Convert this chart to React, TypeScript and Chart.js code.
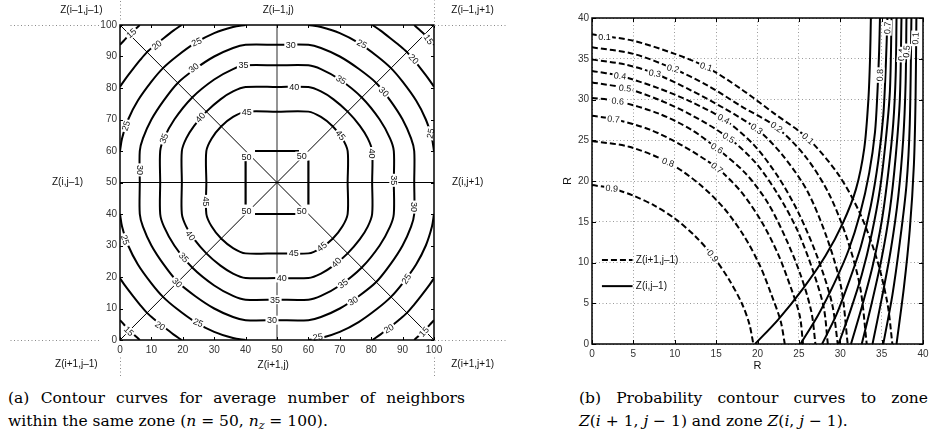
import React, { useEffect, useRef } from 'react';
import { Chart, registerables } from 'chart.js';

Chart.register(...registerables);

type P = [number, number];

// ---------- (a) average number of neighbours inside the same zone ----------
const nbTicks = [0, 10, 20, 30, 40, 50, 60, 70, 80, 90, 100];

const nb15: P[][] = [
  [[6.3, 0], [5, 1.2], [3, 3], [1.2, 5], [0, 6.3]],
  [[0, 93.7], [1.2, 95], [3, 97], [5, 98.8], [6.3, 100]],
  [[93.7, 100], [95, 98.8], [97, 97], [98.8, 95], [100, 93.7]],
  [[100, 6.3], [98.8, 5], [97, 3], [95, 1.2], [93.7, 0]],
];

const nb20: P[][] = [
  [[19.6, 0], [17, 1.8], [14, 4.1], [11, 6.5], [8.6, 8.6], [6.5, 11], [4.1, 14], [1.8, 17], [0, 19.6]],
  [[0, 80.4], [1.8, 83], [4.1, 86], [6.5, 89], [8.6, 91.4], [11, 93.5], [14, 95.9], [17, 98.2], [19.6, 100]],
  [[80.4, 100], [83, 98.2], [86, 95.9], [89, 93.5], [91.4, 91.4], [93.5, 89], [95.9, 86], [98.2, 83], [100, 80.4]],
  [[100, 19.6], [98.2, 17], [95.9, 14], [93.5, 11], [91.4, 8.6], [89, 6.5], [86, 4.1], [83, 1.8], [80.4, 0]],
];

const nb25: P[][] = [
  [[40, 0], [36, 0.65], [30, 2.6], [24, 5.7], [18, 10], [13.7, 13.7], [10, 18], [5.7, 24], [2.6, 30], [0.65, 36], [0, 40]],
  [[0, 60], [0.65, 64], [2.6, 70], [5.7, 76], [10, 82], [13.7, 86.3], [18, 90], [24, 94.3], [30, 97.4], [36, 99.35], [40, 100]],
  [[60, 100], [64, 99.35], [70, 97.4], [76, 94.3], [82, 90], [86.3, 86.3], [90, 82], [94.3, 76], [97.4, 70], [99.35, 64], [100, 60]],
  [[100, 40], [99.35, 36], [97.4, 30], [94.3, 24], [90, 18], [86.3, 13.7], [82, 10], [76, 5.7], [70, 2.6], [64, 0.65], [60, 0]],
];

const nb30: P[] = [
  [50, 93.7], [40, 93.7], [36, 92.7], [30, 90], [24, 86.1], [18.4, 81.6], [13.9, 76], [10, 70], [7.3, 64], [6.3, 60],
  [6.3, 50], [6.3, 40], [7.3, 36], [10, 30], [13.9, 24], [18.4, 18.4], [24, 13.9], [30, 10], [36, 7.3], [40, 6.3],
  [50, 6.3], [60, 6.3], [64, 7.3], [70, 10], [76, 13.9], [81.6, 18.4], [86.1, 24], [90, 30], [92.7, 36], [93.7, 40],
  [93.7, 50], [93.7, 60], [92.7, 64], [90, 70], [86.1, 76], [81.6, 81.6], [76, 86.1], [70, 90], [64, 92.7], [60, 93.7],
  [50, 93.7],
];

const nb35: P[] = [
  [50, 87.2], [40, 87.2], [36, 86], [30, 82.7], [23, 77], [17.3, 70], [14, 64], [12.8, 60],
  [12.8, 50], [12.8, 40], [14, 36], [17.3, 30], [23, 23], [30, 17.3], [36, 14], [40, 12.8],
  [50, 12.8], [60, 12.8], [64, 14], [70, 17.3], [77, 23], [82.7, 30], [86, 36], [87.2, 40],
  [87.2, 50], [87.2, 60], [86, 64], [82.7, 70], [77, 77], [70, 82.7], [64, 86], [60, 87.2],
  [50, 87.2],
];

const nb40: P[] = [
  [50, 80.3], [40, 80.3], [36, 78.9], [32, 76.4], [27.5, 72.5], [23.6, 68], [21.1, 64], [19.7, 60],
  [19.7, 50], [19.7, 40], [21.1, 36], [23.6, 32], [27.5, 27.5], [32, 23.6], [36, 21.1], [40, 19.7],
  [50, 19.7], [60, 19.7], [64, 21.1], [68, 23.6], [72.5, 27.5], [76.4, 32], [78.9, 36], [80.3, 40],
  [80.3, 50], [80.3, 60], [78.9, 64], [76.4, 68], [72.5, 72.5], [68, 76.4], [64, 78.9], [60, 80.3],
  [50, 80.3],
];

const nb45: P[] = [
  [50, 72.5], [40, 72.5], [36, 70.8], [32.2, 67.8], [29.2, 64], [27.5, 60],
  [27.5, 50], [27.5, 40], [29.2, 36], [32.2, 32.2], [36, 29.2], [40, 27.5],
  [50, 27.5], [60, 27.5], [64, 29.2], [67.8, 32.2], [70.8, 36], [72.5, 40],
  [72.5, 50], [72.5, 60], [70.8, 64], [67.8, 67.8], [64, 70.8], [60, 72.5],
  [50, 72.5],
];

const nb50: P[][] = [
  [[43, 60], [57, 60]],
  [[43, 40], [57, 40]],
  [[40, 43], [40, 57]],
  [[60, 43], [60, 57]],
];

// inline contour labels: text, x, y, rotation (deg)
const nbLabels: [string, number, number, number][] = [
  ['15', 3.6, 97.4, -40], ['20', 11.7, 93.6, -38], ['25', 24.4, 94.6, -25], ['30', 23.5, 86.4, -40],
  ['40', 25.6, 70.6, -48], ['35', 39.3, 87.2, 0], ['45', 40.4, 72.5, 0],
  ['30', 54.4, 93.7, 0], ['40', 55.5, 80.3, 0], ['35', 70.4, 82.6, 32], ['30', 84, 78.8, 45],
  ['25', 77, 94, 28], ['20', 93.5, 89.2, 45], ['15', 98.3, 95.4, 55],
  ['25', 1.9, 68, -72], ['30', 6.3, 54, 90], ['25', 1.6, 31.8, 72],
  ['35', 14, 64, -70], ['45', 27.5, 44, 90], ['40', 22.4, 33.2, 55],
  ['50', 40.3, 58.2, 0], ['50', 57.9, 58.4, 0], ['50', 40.3, 41, 0], ['50', 57.9, 41, 0],
  ['45', 64.3, 29.6, -38], ['45', 70.2, 65, 50], ['40', 80.3, 59.2, 90], ['35', 87.2, 50.7, 90],
  ['30', 93.7, 42.2, 90], ['25', 98.9, 65.6, -78],
  ['45', 55.3, 27.5, 0], ['40', 51.5, 19.7, 0], ['35', 49.4, 12.8, 0], ['30', 48.4, 6.3, 0],
  ['35', 20.3, 26.2, 48], ['30', 18.2, 18.2, 45], ['20', 12.8, 4.5, 32], ['25', 24.9, 5.5, 22], ['15', 2.8, 2.8, 45],
  ['40', 68.9, 24.6, -45], ['35', 71, 17.9, -36], ['30', 74.2, 12.4, -30], ['25', 91.2, 19.4, -55],
  ['20', 85.6, 3.6, -30], ['15', 96.8, 2.6, -48], ['25', 63, 0.9, -8],
];

// neighbouring-zone names around the zone: text, x, y
const zoneNames: [string, number, number][] = [
  ['Z(i–1,j–1)', -12.3, 104.8], ['Z(i–1,j)', 50.4, 104.8], ['Z(i–1,j+1)', 112.3, 104.8],
  ['Z(i,j–1)', -16.7, 50], ['Z(i,j+1)', 110.7, 50],
  ['Z(i+1,j–1)', -13.9, -7.6], ['Z(i+1,j)', 48.8, -8.1], ['Z(i+1,j+1)', 112.3, -7.6],
];

// dotted continuation lines of the zone grid: [x1, y1, x2, y2]
const zoneGridLines: [number, number, number, number][] = [
  [-35, 100, -6, 100], [0, 102, 0, 108],
  [100, 100, 123, 100], [100, 100, 100, 108],
  [-35, 0, -6, 0], [0, -5.5, 0, -11.5],
  [100, 0, 123, 0], [100, -5.5, 100, -11.5],
];

// ---------- (b) probability contours ----------
const rTicks = [0, 5, 10, 15, 20, 25, 30, 35, 40];

// zone Z(i+1,j-1), levels 0.1 ... 0.9
const diagCurves: P[][] = [
  [[0, 38], [5, 37.2], [10, 35.6], [13.8, 34], [18, 31.3], [22, 28.3], [26.1, 25.2], [29.7, 20.9], [32.4, 16], [34.4, 10.5], [35.7, 5], [36.3, 0]],
  [[0, 36.4], [5, 35.6], [9.8, 33.8], [14, 31.7], [18, 29.2], [22.3, 26.6], [25.8, 23], [28.6, 18.5], [30.8, 13], [32.4, 7], [33.2, 0]],
  [[0, 34.9], [4, 34.3], [7.6, 33.2], [12, 31.1], [16, 28.9], [19.9, 26.4], [23, 23.2], [26, 18.8], [28.4, 13], [30.1, 7], [30.9, 0]],
  [[0, 33.5], [3.4, 32.9], [8, 31.4], [12, 29.7], [15.9, 27.6], [19.5, 24.5], [22.5, 20.5], [25, 16], [27.3, 10.5], [29, 5], [29.7, 0]],
  [[0, 32.1], [4, 31.4], [8, 30], [12, 28.1], [16.5, 25.3], [19.8, 22.2], [22.5, 18.3], [24.8, 14], [26.7, 9], [28, 4.5], [28.5, 0]],
  [[0, 30.2], [3.1, 29.8], [8, 28.3], [12, 26.3], [15.1, 24], [18.5, 21], [21.2, 17.4], [23.4, 13], [25.2, 8.5], [26.5, 4], [27, 0]],
  [[0, 28], [2.6, 27.6], [7, 26.3], [11, 24.3], [15.1, 21.6], [18, 18.7], [20.5, 15], [22.5, 11], [24, 7], [25.1, 3.5], [25.5, 0]],
  [[0, 24.9], [4.5, 24.2], [9.2, 22.3], [13, 19.6], [16, 16.6], [18.4, 13.2], [20.3, 9.6], [21.7, 6], [22.8, 2.8], [23.3, 0]],
  [[0, 19.5], [2.4, 19.1], [5, 18.2], [7.5, 17], [10, 15.4], [12.5, 13.2], [14.6, 10.8], [16.5, 8], [18.1, 5], [19, 2.5], [19.5, 0]],
];

// zone Z(i,j-1), levels 0.1 ... 0.9
const sideCurves: P[][] = [
  [[36.8, 0], [37.7, 7], [38.4, 14], [38.9, 22], [39.1, 30], [39.2, 40]],
  [[35.2, 0], [36.3, 6], [37.2, 12.5], [38, 19.5], [38.4, 27], [38.6, 40]],
  [[33.9, 0], [35, 5.5], [36.1, 11.5], [37, 18], [37.6, 25], [37.9, 32], [38, 40]],
  [[32.6, 0], [33.8, 5], [35, 10.5], [36, 16.5], [36.7, 23], [37.2, 30], [37.4, 40]],
  [[31.3, 0], [32.6, 4.5], [33.9, 9.5], [35, 15], [35.8, 21], [36.4, 27], [36.7, 33], [36.8, 40]],
  [[29.8, 0], [31.2, 4], [32.6, 8.5], [33.8, 13.5], [34.8, 19], [35.5, 25], [36, 31], [36.2, 40]],
  [[27.8, 0], [29.5, 3.5], [31, 7.5], [32.5, 12], [33.7, 17], [34.6, 22.5], [35.2, 28], [35.5, 34], [35.7, 40]],
  [[25.2, 0], [27.3, 3.5], [29.3, 7.5], [31, 11.5], [32.4, 16], [33.5, 21], [34.2, 26], [34.5, 31], [34.7, 36], [34.8, 40]],
  [[19.7, 0], [22.5, 3], [25.5, 6.8], [28.2, 10.8], [30.3, 14.8], [31.9, 19], [32.9, 24], [33.4, 30], [33.6, 35], [33.7, 40]],
];

const probLabels: [string, number, number, number][] = [
  ['0.1', 1.5, 37.7, 0], ['0.1', 13.8, 34, 18], ['0.1', 26.1, 25.2, 42],
  ['0.2', 9.8, 33.8, 14], ['0.2', 22.3, 26.6, 35],
  ['0.3', 7.6, 33.2, 10], ['0.3', 19.9, 26.4, 35],
  ['0.4', 3.4, 32.9, 6], ['0.4', 15.9, 27.6, 28],
  ['0.5', 4, 31.4, 6], ['0.5', 16.5, 25.3, 32],
  ['0.6', 3.1, 29.8, 5], ['0.6', 15.1, 24, 32],
  ['0.7', 2.6, 27.6, 5], ['0.7', 15.1, 21.6, 38],
  ['0.8', 9.2, 22.3, 20], ['0.9', 2.4, 19.1, 5], ['0.9', 14.6, 10.8, 52],
  ['0.8', 34.8, 33, -88], ['0.7', 35.7, 38.8, -88], ['0.4', 37.4, 35.5, -85], ['0.5', 38, 35.9, -85],
  ['0.1', 39.1, 37.5, -88],
];

// legend entries: text, y, dashed
const probLegend: [string, number, boolean][] = [
  ['Z(i+1,j–1)', 10.3, true],
  ['Z(i,j–1)', 7.1, false],
];

const DASHED = [6, 3];
const SANS = '"Liberation Sans", Arial, sans-serif';

const toXY = (pts: P[]) => pts.map(([x, y]) => ({ x, y }));

function drawLabel(ctx: CanvasRenderingContext2D, text: string, px: number, py: number, deg: number, size: number) {
  ctx.save();
  ctx.translate(px, py);
  ctx.rotate((deg * Math.PI) / 180);
  ctx.font = `${size}px ${SANS}`;
  const w = ctx.measureText(text).width;
  ctx.fillStyle = '#fff';
  ctx.fillRect(-w / 2 - 1.5, -size / 2, w + 3, size);
  ctx.fillStyle = '#111';
  ctx.textAlign = 'center';
  ctx.textBaseline = 'middle';
  ctx.fillText(text, 0, 0.5);
  ctx.restore();
}

function drawFrame(chart: any, tickLen: number) {
  const { ctx, chartArea: a, scales } = chart;
  ctx.save();
  ctx.strokeStyle = '#000';
  ctx.lineWidth = 1.5;
  ctx.strokeRect(a.left, a.top, a.right - a.left, a.bottom - a.top);
  ctx.lineWidth = 1;
  for (const t of scales.x.ticks) {
    const px = Math.round(scales.x.getPixelForValue(t.value)) + 0.5;
    ctx.beginPath();
    ctx.moveTo(px, a.bottom);
    ctx.lineTo(px, a.bottom - tickLen);
    ctx.moveTo(px, a.top);
    ctx.lineTo(px, a.top + tickLen);
    ctx.stroke();
  }
  for (const t of scales.y.ticks) {
    const py = Math.round(scales.y.getPixelForValue(t.value)) + 0.5;
    ctx.beginPath();
    ctx.moveTo(a.left, py);
    ctx.lineTo(a.left + tickLen, py);
    ctx.moveTo(a.right, py);
    ctx.lineTo(a.right - tickLen, py);
    ctx.stroke();
  }
  ctx.restore();
}

function lineSet(pts: P[], width: number, color = '#000', dash: number[] = [], tension = 0.3) {
  return {
    data: toXY(pts),
    showLine: true,
    pointRadius: 0,
    borderColor: color,
    borderWidth: width,
    borderDash: dash,
    tension,
    fill: false,
  };
}

function NeighboursChart() {
  const ref = useRef<HTMLCanvasElement>(null);
  useEffect(() => {
    const datasets: any[] = [];
    [...nb15, ...nb20, ...nb25].forEach((arc) => datasets.push(lineSet(arc, 2)));
    [nb30, nb35, nb40, nb45].forEach((loop) => datasets.push(lineSet(loop, 2)));
    nb50.forEach((seg) => datasets.push(lineSet(seg, 2.2, '#000', [], 0)));
    // zone axes
    datasets.push(lineSet([[0, 0], [100, 100]], 1, '#000', [], 0));
    datasets.push(lineSet([[0, 100], [100, 0]], 1, '#000', [], 0));
    datasets.push(lineSet([[0, 50], [100, 50]], 1.2, '#000', [], 0));
    datasets.push(lineSet([[50, 0], [50, 100]], 1.6, '#7a7a7a', [], 0));

    const overlay = {
      id: 'nbOverlay',
      afterDatasetsDraw(chart: any) {
        const { ctx, scales } = chart;
        for (const [t, x, y, r] of nbLabels) {
          drawLabel(ctx, t, scales.x.getPixelForValue(x), scales.y.getPixelForValue(y), r, 9);
        }
      },
      afterDraw(chart: any) {
        const { ctx, scales } = chart;
        drawFrame(chart, 3);
        ctx.save();
        ctx.strokeStyle = '#8a8a8a';
        ctx.lineWidth = 1;
        ctx.setLineDash([1, 2.5]);
        for (const [x1, y1, x2, y2] of zoneGridLines) {
          ctx.beginPath();
          ctx.moveTo(Math.round(scales.x.getPixelForValue(x1)) + 0.5, Math.round(scales.y.getPixelForValue(y1)) + 0.5);
          ctx.lineTo(Math.round(scales.x.getPixelForValue(x2)) + 0.5, Math.round(scales.y.getPixelForValue(y2)) + 0.5);
          ctx.stroke();
        }
        ctx.setLineDash([]);
        ctx.fillStyle = '#111';
        ctx.font = `10px ${SANS}`;
        ctx.textAlign = 'center';
        ctx.textBaseline = 'middle';
        for (const [t, x, y] of zoneNames) {
          ctx.fillText(t, scales.x.getPixelForValue(x), scales.y.getPixelForValue(y));
        }
        ctx.restore();
      },
    };

    const tickFont = { family: SANS, size: 10 };
    const chart = new Chart(ref.current!, {
      type: 'scatter',
      data: { datasets },
      plugins: [overlay],
      options: {
        animation: false,
        responsive: false,
        devicePixelRatio: 1,
        layout: { padding: { left: 90, top: 25, right: 86, bottom: 20 } },
        plugins: { legend: { display: false }, tooltip: { enabled: false } },
        scales: {
          x: {
            type: 'linear', min: 0, max: 100,
            afterBuildTicks: (s: any) => { s.ticks = nbTicks.map((v) => ({ value: v })); },
            afterFit: (s: any) => { s.height = 20; },
            ticks: { font: tickFont, color: '#333', padding: 4 },
            grid: { display: false, drawTicks: false },
            border: { display: false },
          },
          y: {
            type: 'linear', min: 0, max: 100,
            afterBuildTicks: (s: any) => { s.ticks = nbTicks.map((v) => ({ value: v })); },
            afterFit: (s: any) => { s.width = 30; },
            ticks: { font: tickFont, color: '#333', padding: 3 },
            grid: { display: false, drawTicks: false },
            border: { display: false },
          },
        },
      } as any,
    });
    return () => chart.destroy();
  }, []);
  return <canvas ref={ref} width={520} height={380} />;
}

function ProbabilityChart() {
  const ref = useRef<HTMLCanvasElement>(null);
  useEffect(() => {
    const datasets: any[] = [];
    diagCurves.forEach((c) => datasets.push(lineSet(c, 2, '#000', DASHED, 0.3)));
    sideCurves.forEach((c) => datasets.push(lineSet(c, 2, '#000', [], 0.3)));

    const overlay = {
      id: 'probOverlay',
      afterDatasetsDraw(chart: any) {
        const { ctx, scales } = chart;
        for (const [t, x, y, r] of probLabels) {
          drawLabel(ctx, t, scales.x.getPixelForValue(x), scales.y.getPixelForValue(y), r, 9);
        }
      },
      afterDraw(chart: any) {
        const { ctx, scales, chartArea: a } = chart;
        drawFrame(chart, 4);
        ctx.save();
        // legend
        ctx.font = `10px ${SANS}`;
        ctx.textBaseline = 'middle';
        ctx.textAlign = 'left';
        for (const [t, y, dashed] of probLegend) {
          const py = scales.y.getPixelForValue(y);
          ctx.strokeStyle = '#000';
          ctx.lineWidth = 2;
          ctx.setLineDash(dashed ? DASHED : []);
          ctx.beginPath();
          ctx.moveTo(scales.x.getPixelForValue(1.2), py);
          ctx.lineTo(scales.x.getPixelForValue(4.9), py);
          ctx.stroke();
          ctx.setLineDash([]);
          ctx.fillStyle = '#111';
          ctx.fillText(t, scales.x.getPixelForValue(5.3), py);
        }
        // axis titles
        ctx.font = `11px ${SANS}`;
        ctx.textAlign = 'center';
        ctx.fillText('R', (a.left + a.right) / 2, a.bottom + 22);
        ctx.translate(a.left - 24, (a.top + a.bottom) / 2);
        ctx.rotate(-Math.PI / 2);
        ctx.fillText('R', 0, 0);
        ctx.restore();
      },
    };

    const tickFont = { family: SANS, size: 10 };
    const gridOpts = { display: true, drawTicks: false, color: '#9a9a9a', lineWidth: 1 };
    const chart = new Chart(ref.current!, {
      type: 'scatter',
      data: { datasets },
      plugins: [overlay],
      options: {
        animation: false,
        responsive: false,
        devicePixelRatio: 1,
        layout: { padding: { left: 22, top: 18, right: 17, bottom: 16 } },
        plugins: { legend: { display: false }, tooltip: { enabled: false } },
        scales: {
          x: {
            type: 'linear', min: 0, max: 40,
            afterBuildTicks: (s: any) => { s.ticks = rTicks.map((v) => ({ value: v })); },
            afterFit: (s: any) => { s.height = 20; },
            ticks: { font: tickFont, color: '#333', padding: 4 },
            grid: gridOpts,
            border: { display: false, dash: [1, 2.5] },
          },
          y: {
            type: 'linear', min: 0, max: 40,
            afterBuildTicks: (s: any) => { s.ticks = rTicks.map((v) => ({ value: v })); },
            afterFit: (s: any) => { s.width = 30; },
            ticks: { font: tickFont, color: '#333', padding: 3 },
            grid: gridOpts,
            border: { display: false, dash: [1, 2.5] },
          },
        },
      } as any,
    });
    return () => chart.destroy();
  }, []);
  return <canvas ref={ref} width={400} height={380} />;
}

const captionStyle: React.CSSProperties = {
  position: 'absolute',
  fontFamily: '"DejaVu Serif", "Liberation Serif", serif',
  fontSize: 15.5,
  lineHeight: '23px',
  color: '#000',
  whiteSpace: 'nowrap',
};

const fullLine: React.CSSProperties = {
  textAlign: 'justify',
  textAlignLast: 'justify',
  whiteSpace: 'normal',
};

const subStyle: React.CSSProperties = { fontSize: 11, lineHeight: 0, verticalAlign: '-3px' };

export default function App() {
  return (
    <div style={{ position: 'absolute', left: 0, top: 0, width: 940, height: 445, background: '#fff', overflow: 'hidden' }}>
      <div style={{ position: 'absolute', left: 0, top: 0 }}>
        <NeighboursChart />
      </div>
      <div style={{ position: 'absolute', left: 540, top: 0 }}>
        <ProbabilityChart />
      </div>
      <div style={{ ...captionStyle, left: 8, top: 387, width: 457 }}>
        <div style={fullLine}>(a) Contour curves for average number of neighbors</div>
        <div>
          within the same zone (<i>n</i> = 50, <i>n</i>
          <i style={subStyle}>z</i> = 100).
        </div>
      </div>
      <div style={{ ...captionStyle, left: 579, top: 387, width: 349 }}>
        <div style={fullLine}>(b) Probability contour curves to zone</div>
        <div>
          <i>Z</i>(<i>i</i> + 1, <i>j</i> − 1) and zone <i>Z</i>(<i>i</i>, <i>j</i> − 1).
        </div>
      </div>
    </div>
  );
}
